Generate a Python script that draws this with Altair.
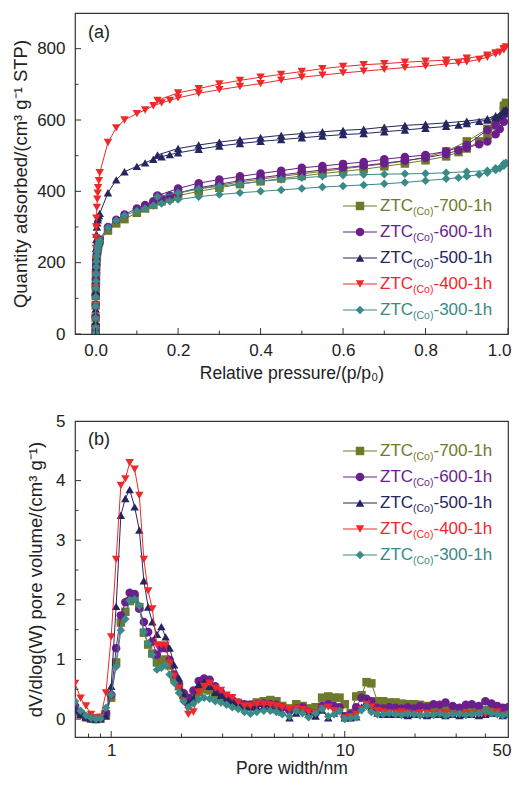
import altair as alt
import pandas as pd

# ---------------- shared series info ----------------
SUFFIX = ["-700-1h", "-600-1h", "-500-1h", "-400-1h", "-300-1h"]
NAMES = ["ZTC(Co)" + s for s in SUFFIX]
COLORS = ["#6E7A2A", "#6A1F8C", "#26255F", "#F0282A", "#3A8A87"]
SHAPES = ["square", "circle", "triangle-up", "triangle-down", "diamond"]

# ---------------- (a) N2 isotherms ----------------
P_LOW = [0.00002, 0.00005, 0.0001, 0.0002, 0.0003, 0.0005, 0.0007, 0.001,
         0.0015, 0.002, 0.003, 0.004, 0.005, 0.006, 0.008, 0.01]
P_MID = [0.03, 0.05, 0.07, 0.1, 0.12, 0.14, 0.16, 0.18, 0.2, 0.25, 0.3, 0.35,
         0.4, 0.45, 0.5, 0.55, 0.6, 0.65, 0.7, 0.75, 0.8, 0.85, 0.88, 0.9,
         0.93, 0.95, 0.97, 0.98, 0.99, 0.995]
P_DES = [0.99, 0.97, 0.95, 0.9, 0.85, 0.8, 0.75, 0.7, 0.65, 0.6, 0.55, 0.5,
         0.45, 0.4, 0.35, 0.3, 0.25, 0.2, 0.15]

Q_ADS_700 = [5, 20, 46, 80, 106, 130, 150, 170, 190, 205, 220, 232, 240, 247, 255, 262,
             290, 310, 322, 340, 352, 362, 372, 380, 388, 400, 410, 420, 428, 436, 443,
             450, 456, 462, 470, 478, 487, 498, 510, 520, 540, 555, 585, 605, 625, 648]
Q_DES_700 = [640, 600, 575, 540, 512, 495, 485, 477, 470, 463, 456, 449, 442, 434, 426,
             417, 407, 395, 382]
Q_ADS_600 = [5, 22, 48, 82, 108, 132, 152, 172, 192, 207, 222, 234, 242, 249, 257, 265,
             300, 320, 335, 352, 362, 372, 380, 388, 395, 410, 420, 430, 438, 446, 453,
             460, 466, 472, 479, 486, 494, 505, 515, 522, 532, 540, 560, 575, 595, 620]
Q_DES_600 = [615, 585, 572, 530, 512, 502, 496, 490, 482, 477, 471, 466, 458, 450, 442,
             433, 423, 408, 388]
Q_ADS_500 = [10, 35, 70, 120, 150, 190, 215, 240, 265, 280, 300, 312, 320, 326, 332, 338,
             396, 432, 455, 470, 480, 490, 497, 503, 508, 518, 527, 534, 540, 545, 550,
             555, 559, 562, 567, 572, 577, 582, 586, 590, 596, 600, 606, 612, 620, 630]
Q_DES_500 = [628, 612, 604, 597, 592, 588, 585, 580, 574, 571, 567, 562, 557, 551, 545,
             538, 530, 520, 502]
Q_ADS_400 = [15, 40, 80, 130, 165, 210, 240, 270, 300, 325, 355, 378, 395, 410, 430, 452,
             537, 578, 600, 618, 628, 640, 648, 655, 662, 675, 685, 694, 702, 712, 720,
             726, 732, 737, 742, 747, 751, 757, 760, 763, 770, 776, 785, 790, 797, 805]
Q_DES_400 = [800, 788, 782, 773, 768, 765, 762, 758, 755, 750, 744, 736, 728, 720, 711,
             701, 688, 676, 655]
Q_ADS_300 = [4, 18, 44, 78, 104, 128, 148, 168, 188, 204, 219, 231, 240, 247, 255, 262,
             298, 318, 332, 345, 352, 360, 366, 372, 377, 385, 391, 396, 400, 404, 408,
             412, 415, 418, 421, 425, 430, 435, 438, 442, 447, 452, 460, 465, 472, 480]
Q_DES_300 = [478, 465, 458, 455, 452, 450, 449, 448, 447, 445, 442, 438, 433, 428, 421,
             414, 407, 396, 385]

Q_ADS = [Q_ADS_700, Q_ADS_600, Q_ADS_500, Q_ADS_400, Q_ADS_300]
Q_DES = [Q_DES_700, Q_DES_600, Q_DES_500, Q_DES_400, Q_DES_300]

# ---------------- (b) pore size distribution ----------------
W = [0.70, 0.74, 0.78, 0.82, 0.86, 0.90, 0.95,
     1.00, 1.05, 1.10, 1.15, 1.20, 1.26, 1.32, 1.38, 1.44, 1.50,
     1.57, 1.64, 1.71, 1.78, 1.86, 1.95,
     2.04, 2.14, 2.25, 2.37, 2.50, 2.64, 2.79, 2.95,
     3.12, 3.30, 3.50, 3.72, 3.95,
     4.2, 4.5, 4.8, 5.1, 5.4, 5.8,
     6.2, 6.6, 7.0, 7.5, 8.0, 8.5, 9.0, 9.5,
     10.0, 10.6, 11.2, 11.8, 12.4, 13.0, 13.8, 14.6, 15.5, 16.5, 17.5, 18.6, 19.8,
     21, 22.5, 24, 25.5, 27, 29, 31, 33, 35, 37.5, 40, 42.5, 45, 47.5, 50]

V_700 = [0.18, 0.08, 0.03, 0.01, 0.0, 0.02, 0.08,
         0.36, 0.95, 1.62, 1.80, 1.98, 2.02, 1.88, 1.45, 1.25, 1.10,
         0.95, 0.98, 1.00, 0.90, 0.70, 0.55,
         0.40, 0.30, 0.35, 0.45, 0.50, 0.48, 0.42, 0.38,
         0.32, 0.28, 0.25, 0.22, 0.24,
         0.28, 0.30, 0.32, 0.30, 0.22, 0.18,
         0.25, 0.22, 0.18, 0.20, 0.36, 0.38, 0.36, 0.36,
         0.25, 0.10, 0.38, 0.40, 0.62, 0.60, 0.30, 0.30, 0.28, 0.28, 0.26, 0.25, 0.25,
         0.24, 0.22, 0.20, 0.20, 0.18, 0.18, 0.16, 0.16, 0.15, 0.16, 0.15, 0.16, 0.15, 0.14, 0.14]
V_600 = [0.22, 0.08, 0.03, 0.01, 0.0, 0.02, 0.10,
         0.41, 1.19, 1.74, 1.96, 2.12, 2.10, 1.85, 1.63, 1.46, 1.30,
         1.08, 1.19, 1.19, 0.99, 0.75, 0.58,
         0.44, 0.36, 0.48, 0.64, 0.68, 0.66, 0.55, 0.45,
         0.38, 0.32, 0.28, 0.25, 0.24,
         0.25, 0.26, 0.25, 0.24, 0.20, 0.15,
         0.18, 0.20, 0.12, 0.10, 0.22, 0.25, 0.22, 0.20,
         0.05, 0.08, 0.20, 0.36, 0.34, 0.30, 0.19, 0.18, 0.20, 0.19, 0.18, 0.20, 0.18,
         0.22, 0.20, 0.25, 0.24, 0.28, 0.22, 0.19, 0.24, 0.25, 0.22, 0.30, 0.26, 0.22, 0.19, 0.20]
V_500 = [0.15, 0.08, 0.04, 0.01, 0.0, 0.0, 0.05,
         0.55, 1.89, 3.42, 3.70, 3.85, 3.56, 3.17, 2.32, 1.88, 1.63,
         1.42, 1.55, 1.38, 1.19, 0.91, 0.69,
         0.41, 0.28, 0.35, 0.58, 0.63, 0.55, 0.45, 0.40,
         0.35, 0.30, 0.25, 0.22, 0.20,
         0.20, 0.22, 0.20, 0.16, 0.12, 0.02,
         0.10, 0.15, 0.08, 0.05, 0.15, 0.02, 0.10, 0.15,
         0.02, 0.02, 0.04, 0.20, 0.30, 0.20, 0.10, 0.08, 0.08, 0.08, 0.08, 0.06, 0.08,
         0.08, 0.06, 0.08, 0.08, 0.06, 0.08, 0.06, 0.08, 0.08, 0.06, 0.08, 0.10, 0.10, 0.06, 0.08]
V_400 = [0.60, 0.35, 0.22, 0.08, 0.02, 0.03, 0.44,
         1.38, 2.68, 3.92, 4.03, 4.30, 4.19, 3.75, 2.68, 2.15, 1.85,
         1.24, 1.24, 1.24, 0.94, 0.72, 0.52,
         0.30, 0.08, 0.12, 0.45, 0.55, 0.60, 0.52, 0.48,
         0.40, 0.36, 0.28, 0.22, 0.22,
         0.25, 0.25, 0.24, 0.22, 0.20, 0.16,
         0.18, 0.16, 0.12, 0.10, 0.18, 0.20, 0.14, 0.12,
         0.02, 0.04, 0.08, 0.16, 0.25, 0.20, 0.14, 0.12, 0.10, 0.10, 0.12, 0.10, 0.08,
         0.10, 0.10, 0.08, 0.10, 0.10, 0.08, 0.08, 0.10, 0.08, 0.10, 0.08, 0.10, 0.12, 0.06, 0.08]
V_300 = [0.30, 0.14, 0.06, 0.02, 0.0, 0.01, 0.19,
         0.41, 0.88, 1.49, 1.68, 1.99, 2.01, 1.90, 1.46, 1.27, 1.08,
         0.83, 0.86, 0.91, 0.75, 0.61, 0.44,
         0.30, 0.20, 0.26, 0.33, 0.36, 0.34, 0.30, 0.28,
         0.24, 0.20, 0.17, 0.12, 0.09,
         0.12, 0.14, 0.14, 0.12, 0.08, 0.05,
         0.14, 0.10, 0.03, 0.10, 0.17, 0.05, 0.08, 0.14,
         0.0, 0.02, 0.03, 0.15, 0.22, 0.12, 0.08, 0.08, 0.10, 0.08, 0.07, 0.09, 0.08,
         0.06, 0.08, 0.07, 0.09, 0.06, 0.08, 0.09, 0.07, 0.08, 0.10, 0.14, 0.10, 0.08, 0.06, 0.08]
V_ALL = [V_700, V_600, V_500, V_400, V_300]

# ---------------- axis ticks ----------------
XA_MAJOR = [0.0, 0.2, 0.4, 0.6, 0.8, 1.0]
XA_MINOR = [0.1, 0.3, 0.5, 0.7, 0.9]
YA_MAJOR = [0, 200, 400, 600, 800]
YA_MINOR = [100, 300, 500, 700]
XB_LABELS = [1, 10, 50]
XB_MAJOR = [1, 10]
XB_MINOR = [0.8, 0.9, 2, 3, 4, 5, 6, 7, 8, 9, 20, 30, 40]
YB_MAJOR = [0, 1, 2, 3, 4]
YB_MINOR = [0.5, 1.5, 2.5, 3.5, 4.5]
YB_LABELS = [0, 1, 2, 3, 4, 5]

FONT = "Liberation Sans"
TXT = "#222222"
W_PLOT = 433
H_A = 321
H_B = 316
MAJ = 6
MIN = 3.5
MSIZE = 72


def axis(title, values, fmt, tpad, lpad, flush, tsize):
    return alt.Axis(title=title, values=values, format=fmt, ticks=False, domain=False,
                    grid=False, labelFontSize=17, labelFont=FONT, labelColor=TXT,
                    titleFont=FONT, titleFontSize=tsize, titleFontWeight="normal",
                    titleColor=TXT, titlePadding=tpad, labelPadding=lpad,
                    labelFlush=flush, labelFlushOffset=3, labelOverlap=False)


def tick_layers(xenc, yenc, xmaj, xmin, ymaj, ymin, h):
    layers = []
    for vals, ln in ((xmaj, MAJ), (xmin, MIN)):
        layers.append(alt.Chart(pd.DataFrame({"v": vals})).mark_rule(color="#333333", strokeWidth=1).encode(
            x=xenc("v"), y=alt.value(h), y2=alt.value(h - ln)))
    for vals, ln in ((ymaj, MAJ), (ymin, MIN)):
        layers.append(alt.Chart(pd.DataFrame({"v": vals})).mark_rule(color="#333333", strokeWidth=1).encode(
            y=yenc("v"), x=alt.value(0), x2=alt.value(ln)))
    return layers


def legend_layers(y0):
    one = pd.DataFrame({"a": [0]})
    layers = []
    for k in range(5):
        yy = y0 + 26 * k
        c = COLORS[k]
        layers.append(alt.Chart(one).mark_rule(color=c, strokeWidth=1.2).encode(
            x=alt.value(268), x2=alt.value(302), y=alt.value(yy)))
        layers.append(alt.Chart(one).mark_point(shape=SHAPES[k], filled=True, size=MSIZE,
                                                 opacity=1, color=c).encode(
            x=alt.value(285), y=alt.value(yy)))
        layers.append(alt.Chart(one).mark_text(text="ZTC", font=FONT, fontSize=17, color=c,
                                                align="left", baseline="middle").encode(
            x=alt.value(305), y=alt.value(yy)))
        layers.append(alt.Chart(one).mark_text(text="(Co)", font=FONT, fontSize=10.5, color=c,
                                                align="left", baseline="middle").encode(
            x=alt.value(338), y=alt.value(yy + 6)))
        layers.append(alt.Chart(one).mark_text(text=SUFFIX[k], font=FONT, fontSize=17, color=c,
                                                align="left", baseline="middle").encode(
            x=alt.value(358.5), y=alt.value(yy)))
    return layers


# ---------------- panel (a) ----------------
sx_a = alt.Scale(domain=[-0.05, 1.0], nice=False, zero=False)
sy_a = alt.Scale(domain=[0, 900], nice=False)
ax_xa = axis("Relative pressure/(p/p\u2080)", XA_MAJOR, ".1f", 6, 8, 1, 17.5)
ax_ya = axis("Quantity adsorbed/(cm\u00b3 g\u207b\u00b9 STP)", YA_MAJOR, "d", 6, 10, False, 18.5)


def xa(f):
    return alt.X(f, type="quantitative", scale=sx_a, axis=ax_xa)


def ya(f):
    return alt.Y(f, type="quantitative", scale=sy_a, axis=ax_ya)


layers_a = []
for k in range(5):
    p = P_LOW + P_MID + P_DES
    q = Q_ADS[k] + Q_DES[k]
    df = pd.DataFrame({"p": p, "q": q, "o": list(range(len(p)))})
    layers_a.append(alt.Chart(df).mark_line(color=COLORS[k], strokeWidth=1, clip=True).encode(
        x=xa("p"), y=ya("q"), order="o:Q"))
    layers_a.append(alt.Chart(df).mark_point(shape=SHAPES[k], filled=True, size=MSIZE, opacity=1,
                                             color=COLORS[k], clip=True).encode(
        x=xa("p"), y=ya("q")))
layers_a += tick_layers(xa, ya, XA_MAJOR, XA_MINOR, YA_MAJOR, YA_MINOR, H_A)
layers_a += legend_layers(193)
layers_a.append(alt.Chart(pd.DataFrame({"a": [0]})).mark_text(
    text="(a)", font=FONT, fontSize=18, color=TXT, align="left", baseline="middle").encode(
    x=alt.value(13), y=alt.value(20)))
panel_a = alt.layer(*layers_a).properties(width=W_PLOT, height=H_A)

# ---------------- panel (b) ----------------
sx_b = alt.Scale(type="log", domain=[0.7, 50], nice=False)
sy_b = alt.Scale(domain=[-0.3, 5], nice=False, zero=False)
ax_xb = axis("Pore width/nm", XB_LABELS, "d", 1, 5, 1, 17.5)
ax_yb = axis("dV/dlog(W) pore volume/(cm\u00b3 g\u207b\u00b9)", YB_LABELS, "d", 10, 10, False, 18.5)


def xb(f):
    return alt.X(f, type="quantitative", scale=sx_b, axis=ax_xb)


def yb(f):
    return alt.Y(f, type="quantitative", scale=sy_b, axis=ax_yb)


layers_b = []
for k in range(5):
    df = pd.DataFrame({"w": W, "v": V_ALL[k]})
    layers_b.append(alt.Chart(df).mark_line(color=COLORS[k], strokeWidth=1, clip=True).encode(
        x=xb("w"), y=yb("v")))
    layers_b.append(alt.Chart(df).mark_point(shape=SHAPES[k], filled=True, size=MSIZE, opacity=1,
                                             color=COLORS[k], clip=True).encode(
        x=xb("w"), y=yb("v")))
layers_b += tick_layers(xb, yb, XB_MAJOR, XB_MINOR, YB_MAJOR, YB_MINOR, H_B)
layers_b += legend_layers(30)
layers_b.append(alt.Chart(pd.DataFrame({"a": [0]})).mark_text(
    text="(b)", font=FONT, fontSize=18, color=TXT, align="left", baseline="middle").encode(
    x=alt.value(13), y=alt.value(19)))
panel_b = alt.layer(*layers_b).properties(width=W_PLOT, height=H_B)

chart = alt.vconcat(panel_a, panel_b, spacing=87, bounds="flush").properties(
    padding={"left": 3, "top": 4, "right": 0, "bottom": 0}
).configure_view(stroke="#333333", strokeWidth=1.2)

chart.save("out.html", embed_options={"renderer": "svg", "actions": False})
